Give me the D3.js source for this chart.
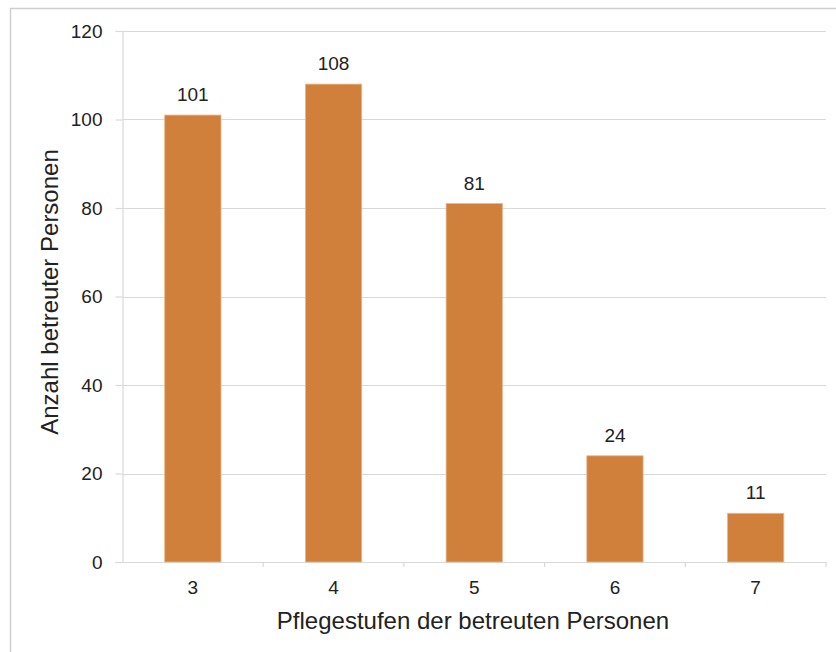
<!DOCTYPE html>
<html><head><meta charset="utf-8">
<script src="https://cdn.jsdelivr.net/npm/d3@7"></script>
<style>body{margin:0;background:#fff;} text{font-family:"Liberation Sans",Arial,sans-serif;}</style>
</head><body>
<svg id="c" width="836" height="652"></svg>
<script>
const categories = ["3","4","5","6","7"];
const values = [101,108,81,24,11];
const yTicks = [0,20,40,60,80,100,120];
const xTitle = "Pflegestufen der betreuten Personen";
const yTitle = "Anzahl betreuter Personen";

const svg = d3.select("#c");
svg.append("rect").attr("x",10.5).attr("y",8.5).attr("width",900).attr("height",700)
  .attr("fill","#fff").attr("stroke","#d0d0d0").attr("stroke-width",1.5);

const L=122.5, R=826, T=31, B=562;
const x = d3.scaleBand().domain(categories).range([L,R]).paddingInner(0.6).paddingOuter(0.3);
const y = d3.scaleLinear().domain([0,120]).range([B,T]);

// gridlines
svg.append("g").selectAll("line").data(yTicks.filter(d=>d>0)).join("line")
  .attr("x1",L).attr("x2",R).attr("y1",d=>Math.round(y(d))+0.5).attr("y2",d=>Math.round(y(d))+0.5)
  .attr("stroke","#d9d9d9").attr("stroke-width",1.2);

// y axis
const ya = svg.append("g").attr("transform",`translate(${L},0)`)
  .call(d3.axisLeft(y).tickValues(yTicks).tickSize(7).tickPadding(13));
ya.select(".domain").attr("stroke","#d9d9d9").attr("stroke-width",1.2);
ya.selectAll(".tick line").attr("stroke","#d9d9d9").attr("stroke-width",1.2);
ya.selectAll(".tick text").attr("font-size",19).attr("fill","#222").attr("font-family","Liberation Sans, Arial, sans-serif");

// x axis
const xa = svg.append("g").attr("transform",`translate(0,${B})`)
  .call(d3.axisBottom(x).tickSize(0).tickPadding(19));
xa.select(".domain").attr("stroke","#d9d9d9").attr("stroke-width",1.2);
xa.selectAll(".tick text").attr("font-size",19).attr("fill","#222").attr("font-family","Liberation Sans, Arial, sans-serif");
// category separator ticks
const sepPos = categories.map((c,i)=> x(c) - x.step()*x.paddingInner()/2).slice(1).concat([R]);
svg.append("g").selectAll("line").data(sepPos).join("line")
  .attr("x1",d=>d).attr("x2",d=>d).attr("y1",B).attr("y2",B+5)
  .attr("stroke","#d9d9d9").attr("stroke-width",1.2);

// bars
svg.append("g").selectAll("rect").data(values).join("rect")
  .attr("x",(d,i)=>x(categories[i])).attr("width",x.bandwidth())
  .attr("y",d=>y(d)).attr("height",d=>B-y(d))
  .attr("fill","#d0803a").attr("stroke","#e8b68a").attr("stroke-width",0.8);

// labels
svg.append("g").selectAll("text").data(values).join("text")
  .attr("x",(d,i)=>x(categories[i])+x.bandwidth()/2).attr("y",d=>y(d)-14)
  .attr("text-anchor","middle").attr("font-size",19).attr("fill","#222").text(d=>d);

svg.append("text").attr("x",473).attr("y",629).attr("text-anchor","middle")
  .attr("font-size",24).attr("fill","#222").text(xTitle);
svg.append("text").attr("transform","translate(58,292) rotate(-90)").attr("text-anchor","middle")
  .attr("font-size",24).attr("fill","#222").text(yTitle);
</script>
</body></html>
